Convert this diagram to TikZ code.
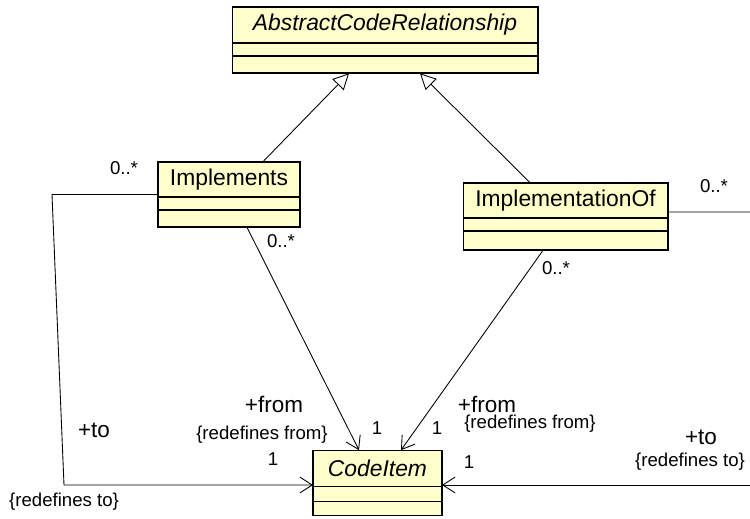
\documentclass[tikz,border=0pt]{standalone}
\usepackage{fontspec}
\setmainfont{Liberation Sans}
\usetikzlibrary{arrows.meta,positioning,fit,calc}
\definecolor{umlYellow}{RGB}{255,255,204}

\tikzset{
  clsname/.style={draw, fill=umlYellow, line width=0.6pt, inner sep=0pt, outer sep=0pt,
                  font=\fontsize{13}{15}\selectfont},
  clspart/.style={draw, fill=umlYellow, line width=0.6pt, inner sep=0pt, outer sep=0pt},
  mult/.style={font=\fontsize{10.6}{12}\selectfont, inner sep=0pt},
  role/.style={font=\fontsize{12.8}{14}\selectfont, inner sep=0pt},
  inherit/.style={-{Triangle[open,length=9pt,width=9pt]}, line width=0.5pt},
  assoc/.style={-{Straight Barb[length=7pt,width=9pt]}, line width=0.5pt},
}

\begin{document}
\begin{tikzpicture}[x=0.02cm, y=-0.02cm]
  \useasboundingbox (0,0) rectangle (750,518);

  % classes
  \node[clsname, minimum width=6.12cm, minimum height=0.72cm] (abs-n) at (385,25) {\itshape AbstractCodeRelationship};
  \node[clspart, below=0pt of abs-n, minimum width=6.12cm, minimum height=0.26cm] (abs-a) {};
  \node[clspart, below=0pt of abs-a, minimum width=6.12cm, minimum height=0.34cm] (abs-o) {};
  \node[fit=(abs-n)(abs-o), inner sep=0pt] (abs) {};

  \node[clsname, minimum width=2.84cm, minimum height=0.70cm] (impl-n) at (229,179.5) {Implements};
  \node[clspart, below=0pt of impl-n, minimum width=2.84cm, minimum height=0.26cm] (impl-a) {};
  \node[clspart, below=0pt of impl-a, minimum width=2.84cm, minimum height=0.34cm] (impl-o) {};
  \node[fit=(impl-n)(impl-o), inner sep=0pt] (impl) {};

  \node[clsname, minimum width=4.10cm, minimum height=0.70cm] (implof-n) at (565.5,200.5) {ImplementationOf};
  \node[clspart, below=0pt of implof-n, minimum width=4.10cm, minimum height=0.26cm] (implof-a) {};
  \node[clspart, below=0pt of implof-a, minimum width=4.10cm, minimum height=0.38cm] (implof-o) {};
  \node[fit=(implof-n)(implof-o), inner sep=0pt] (implof) {};

  \node[clsname, minimum width=2.58cm, minimum height=0.72cm] (code-n) at (377.5,468.5) {\itshape CodeItem};
  \node[clspart, below=0pt of code-n, minimum width=2.58cm, minimum height=0.30cm] (code-a) {};
  \node[clspart, below=0pt of code-a, minimum width=2.58cm, minimum height=0.28cm] (code-o) {};
  \node[fit=(code-n)(code-o), inner sep=0pt] (code) {};

  % generalizations
  \draw[inherit] ($(impl.north)+(34,0)$) -- ($(abs.south)+(-36,0)$);
  \draw[inherit] ($(implof.north)+(-35.5,0)$) -- ($(abs.south)+(35,0)$);

  % associations
  \draw[assoc] ($(impl.south)+(18,0)$) -- ($(code.north)+(-18.5,0)$);
  \draw[assoc] ($(implof.south)+(-22.5,0)$) -- ($(code.north)+(23.5,0)$);

  \coordinate (toL1) at (52,194.5);
  \coordinate (toL2) at (64,485);
  \draw[assoc] (impl.west) -- (toL1) -- (toL2) -- (code-n.west |- toL2);

  \coordinate (toR1) at (750,212);
  \coordinate (toR2) at (750,485);
  \draw[line width=0.5pt] ($(implof.east)+(0,-4.5)$) -- (toR1);
  \draw[assoc] (toR2) -- (code-n.east |- toR2);

  % association ends
  \node[mult] (m1) at (124,168) {0..*};
  \node[mult] (m2) at (281,241) {0..*};
  \node[mult] (m3) at (714,186) {0..*};
  \node[mult] (m4) at (556,268) {0..*};

  \node[role] (r1) at (274,404) {+from};
  \node[mult] (c1) at (262,435) {\{redefines from\}};
  \node[mult] (n1) at (377,428) {1};

  \node[role] (r2) at (487,404) {+from};
  \node[mult] (c2) at (530,424) {\{redefines from\}};
  \node[mult] (n2) at (437,428) {1};

  \node[role] (r3) at (94,430) {+to};
  \node[mult] (c3) at (64,502) {\{redefines to\}};
  \node[mult] (n3) at (273,459) {1};

  \node[role] (r4) at (701,437) {+to};
  \node[mult] (c4) at (690,462) {\{redefines to\}};
  \node[mult] (n4) at (469,462) {1};
\end{tikzpicture}
\end{document}
